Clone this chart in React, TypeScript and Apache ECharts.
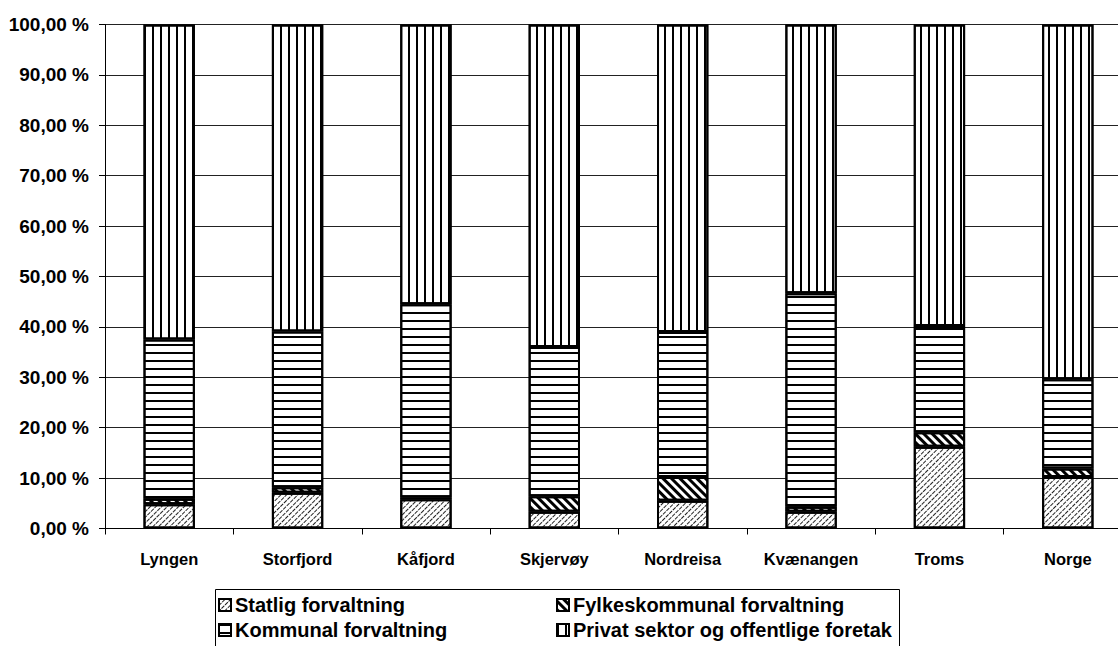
import React, { useEffect, useRef } from "react";
import * as echarts from "echarts";

const categories = ["Lyngen", "Storfjord", "Kåfjord", "Skjervøy", "Nordreisa", "Kvænangen", "Troms", "Norge"];
const seriesNames = [
  "Statlig forvaltning",
  "Fylkeskommunal forvaltning",
  "Kommunal forvaltning",
  "Privat sektor og offentlige foretak",
];
const statlig = [4.8, 7.1, 5.8, 3.3, 5.5, 3.3, 16.2, 10.2];
const fylkes = [1.1, 1.1, 0.4, 3.1, 4.7, 1.0, 2.9, 1.7];
const kommunal = [31.6, 30.9, 38.3, 29.6, 28.8, 42.4, 21.1, 17.7];
const privat = [62.5, 60.9, 55.5, 64.0, 61.0, 53.3, 59.8, 70.4];

const FONT = "'Liberation Sans', Arial, sans-serif";

const decals: any[] = [
  { symbol: "rect", symbolSize: 1, color: "#222", backgroundColor: "#fff", dashArrayX: [4, 1], dashArrayY: [1, 2.5], rotation: -Math.PI / 4 },
  { symbol: "rect", symbolSize: 1, color: "#000", backgroundColor: "#fff", dashArrayX: [1, 0], dashArrayY: [3, 3], rotation: Math.PI / 4 },
  { symbol: "rect", symbolSize: 1, color: "#000", backgroundColor: "#fff", dashArrayX: [1, 0], dashArrayY: [2, 5.3], rotation: 0 },
  { symbol: "rect", symbolSize: 1, color: "#000", backgroundColor: "#fff", dashArrayX: [2, 5.3], dashArrayY: [1, 0], rotation: 0 },
];

const dataSets = [statlig, fylkes, kommunal, privat];

export default function App() {
  const ref = useRef<HTMLDivElement>(null);
  useEffect(() => {
    if (!ref.current) return;
    const chart = echarts.init(ref.current, undefined, { renderer: "svg" });
    const legendPos = [
      { left: 218, top: 595 },
      { left: 556, top: 595 },
      { left: 218, top: 620 },
      { left: 556, top: 620 },
    ];
    chart.setOption({
      animation: false,
      backgroundColor: "#fff",
      grid: { left: 105, right: -14, top: 24.5, bottom: 117.5, outerBoundsMode: "none", containLabel: false },
      xAxis: {
        type: "category",
        data: categories,
        axisLine: { lineStyle: { color: "#000", width: 1 } },
        axisTick: { show: true, length: 6, lineStyle: { color: "#000" } },
        axisLabel: { color: "#000", fontFamily: FONT, fontWeight: "bold", fontSize: 16.5, margin: 22 },
      },
      yAxis: {
        type: "value",
        min: 0,
        max: 100,
        interval: 10,
        axisLine: { show: true, lineStyle: { color: "#000", width: 1 } },
        axisTick: { show: true, length: 6, lineStyle: { color: "#000" } },
        axisLabel: {
          color: "#000",
          fontFamily: FONT,
          fontWeight: "bold",
          fontSize: 19,
          margin: 16,
          formatter: (v: number) => v.toFixed(2).replace(".", ",") + " %",
        },
        splitLine: { show: true, lineStyle: { color: "#222", width: 1 } },
      },
      legend: seriesNames.map((n, i) => ({
        data: [n],
        left: legendPos[i].left,
        top: legendPos[i].top,
        itemWidth: 12,
        itemHeight: 12,
        itemGap: 4,
        padding: 0,
        icon: "rect",
        textStyle: { color: "#000", fontFamily: FONT, fontWeight: "bold", fontSize: 20, padding: [0, 0, 0, -1] },
      })),
      graphic: [
        {
          type: "rect",
          left: 213,
          top: 587,
          shape: { width: 684, height: 70 },
          style: { fill: "none", stroke: "#000", lineWidth: 1 },
          z: 100,
        },
      ],
      series: seriesNames.map((n, i) => ({
        name: n,
        type: "bar",
        stack: "total",
        data: dataSets[i],
        barWidth: "40%",
        itemStyle: { color: "#fff", borderColor: "#000", borderWidth: 2, decal: decals[i] },
      })),
    });
    return () => chart.dispose();
  }, []);
  return <div ref={ref} style={{ position: "absolute", left: 0, top: 0, width: 1118, height: 646 }} />;
}
